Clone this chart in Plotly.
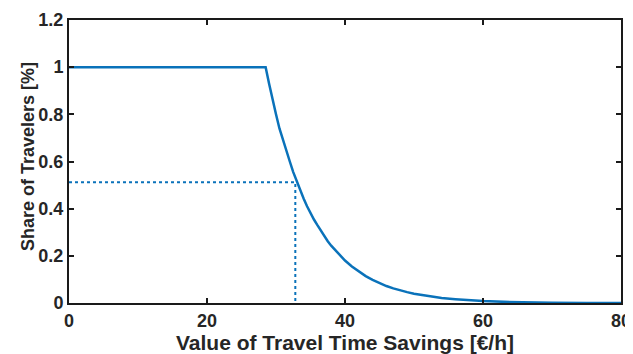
import plotly.graph_objects as go

# Values
vtts = [0, 10, 20, 28.5, 29, 29.5, 30, 30.5, 31, 31.5, 32, 32.5, 33, 33.5, 34, 34.5, 35, 35.5,
        36, 36.5, 37, 37.5, 38, 39, 40, 41, 42, 43, 44, 45, 46, 47, 48, 49, 50, 52, 54, 56,
        58, 60, 63, 66, 70, 75, 80]
share = [1, 1, 1, 1, 0.93, 0.86, 0.80, 0.74, 0.69, 0.645, 0.60, 0.555, 0.515, 0.478, 0.443,
         0.41, 0.38, 0.354, 0.33, 0.306, 0.283, 0.262, 0.243, 0.21, 0.18, 0.155, 0.133,
         0.114, 0.098, 0.084, 0.072, 0.062, 0.053, 0.046, 0.039, 0.029, 0.021, 0.016, 0.011,
         0.008, 0.005, 0.003, 0.0015, 0.0005, 0.0]
marker_x = [32.8]
marker_y = [0.512]

x_ticks = [0, 20, 40, 60, 80]
y_ticks = [0, 0.2, 0.4, 0.6, 0.8, 1, 1.2]
y_tick_labels = ["0", "0.2", "0.4", "0.6", "0.8", "1", "1.2"]

blue = "#0A72BA"
text_col = "#262626"
font_family = "Liberation Sans, Arial, sans-serif"

fig = go.Figure()
fig.add_trace(go.Scatter(x=vtts, y=share, mode="lines",
                         line=dict(color=blue, width=2.5), showlegend=False))
fig.add_trace(go.Scatter(x=[0, marker_x[0], marker_x[0]], y=[marker_y[0], marker_y[0], 0],
                         mode="lines", line=dict(color=blue, width=2, dash="dot"),
                         showlegend=False))

axis_common = dict(showline=True, linecolor="#1a1a1a", linewidth=2, mirror="ticks",
                   ticks="inside", ticklen=5, tickwidth=2, tickcolor="#1a1a1a",
                   showgrid=False, zeroline=False, automargin=False,
                   tickfont=dict(family=font_family, size=18, color=text_col, weight="bold"))

fig.update_layout(
    width=625, height=346,
    margin=dict(l=61, r=12, t=12, b=51),
    plot_bgcolor="white", paper_bgcolor="white",
    xaxis=dict(range=[0, 80], tickvals=x_ticks, ticktext=[str(t) for t in x_ticks],
               title=dict(text="Value of Travel Time Savings [€/h]",
                          font=dict(family=font_family, size=21, color=text_col, weight="bold"),
                          standoff=8),
               **axis_common),
    yaxis=dict(range=[0, 1.2], tickvals=y_ticks, ticktext=y_tick_labels, **axis_common),
    annotations=[dict(text="Share of Travelers [%]", xref="paper", yref="paper",
                      x=-0.073, y=0.518, xanchor="center", yanchor="middle",
                      textangle=-90, showarrow=False,
                      font=dict(family=font_family, size=18, color=text_col, weight="bold"))],
)

fig.write_html("out.html")
